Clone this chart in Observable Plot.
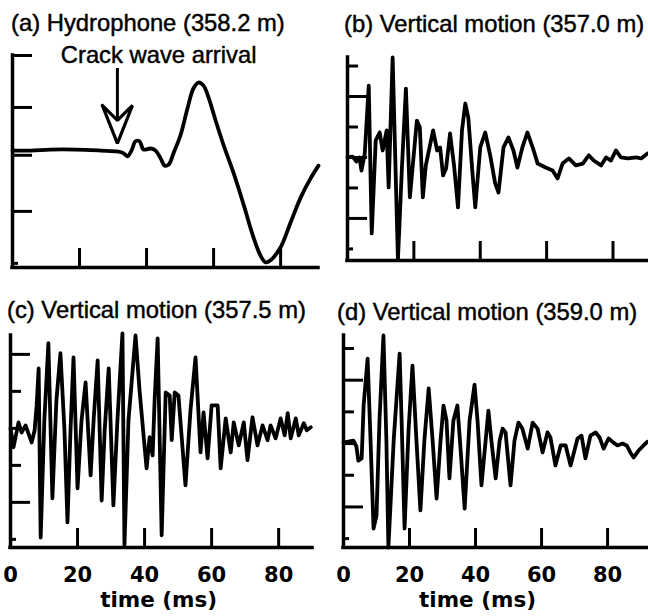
<!DOCTYPE html>
<html><head><meta charset="utf-8">
<script src="https://cdn.jsdelivr.net/npm/d3@7"></script>
<script src="https://cdn.jsdelivr.net/npm/@observablehq/plot@0.6"></script>
<style>
body{margin:0;background:#fff;}
#wrap{position:relative;width:648px;height:616px;overflow:hidden;background:#fff;font-family:"Liberation Sans",Arial,sans-serif;}
.title{position:absolute;font-size:23.8px;line-height:26px;white-space:nowrap;color:#000;-webkit-text-stroke:0.45px #000;}
</style></head><body><div id="wrap"></div>
<script>
const titles = ["(a) Hydrophone (358.2 m)", "(b) Vertical motion (357.0 m)", "(c) Vertical motion (357.5 m)", "(d) Vertical motion (359.0 m)"];
const timeTicks = [20, 40, 60, 80];
const timeLabels = [0, 20, 40, 60, 80];
const axisTitle = "time (ms)";

// (a) hydrophone pressure
const tA = [0,5.4,11.3,18.8,26.3,31.6,33.1,34.3,35.5,36.7,37.9,39.1,41.2,42.7,44.2,45.4,46.6,48.1,50.1,52.2,54,55.5,57,58.5,60.6,63,66,69,71.9,74,75.5,77,80,83,86,88.9,91.3];
const vA = [0.17,0.17,0.19,0.19,0.17,0.15,0.12,0.06,0.17,0.35,0.35,0.19,0.21,0.17,0.02,-0.12,-0.1,0.13,0.46,0.98,1.37,1.48,1.42,1.19,0.75,0.27,-0.27,-0.88,-1.5,-1.85,-1.98,-1.94,-1.69,-1.21,-0.73,-0.37,-0.12];
// (b) vertical motion 357.0 m
const tB = [0,1.5,2.7,3.6,4.2,5.2,6.4,7.3,8.5,9.7,10.6,11.8,12.4,13.6,15.2,16.4,17.6,18.8,20.9,21.8,22.7,23.6,25.8,27,27.9,28.8,29.7,30.9,32.1,33.3,34.5,35.5,36.4,37.6,38.5,40,41.5,43,44.5,45.5,47,48.5,50,51.2,52.7,54.2,55.8,57.3,59.7,61.8,63.3,64.8,66.7,68.8,70.9,72.7,74.2,76.4,77.9,79.4,80.9,82.4,84.5,87,88.5,90.4];
const vB = [0,0.03,-0.13,0,-0.43,0.13,2.36,-2.49,0.56,0.82,0.23,0.89,-0.98,3.28,-3.35,-0.33,2.26,-1.31,1.21,0.98,-1.31,-0.26,0.89,0.23,0.33,-0.59,-0.36,0.79,-0.26,-1.64,0.89,1.77,1.31,-0.43,-1.64,0.33,0.82,0.07,-0.85,-1.15,0.33,0.66,0.23,-0.33,0.33,0.82,0.33,-0.2,-0.33,-0.43,-0.69,-0.2,-0.03,-0.26,-0.2,0.07,-0.1,-0.26,0,-0.1,0.23,0,-0.03,0,-0.03,0.13];
// (c) vertical motion 357.5 m
const tC = [0,0.9,2.4,3.3,4.5,6.3,7.2,7.8,8.4,9,10.1,11.3,12.5,13.7,14.9,16.1,17,17.9,18.8,20,21.2,22.4,23.9,24.8,26,27.2,28.1,29.3,30.7,31.9,33.4,34,35.2,37.3,38.5,39.7,40.6,41.5,42.4,43,43.9,45.1,46.3,47.5,48.1,49,50.1,52.2,53.7,55.2,56.7,57.6,58.8,60,61.8,62.7,64.2,65.7,66.6,68.1,69.6,70.7,72.2,73.7,75.2,76.7,77.6,79.1,80.6,81.8,82.7,83.6,85.1,86,87.5,88.4,89.6];
const vC = [0,-0.51,0.16,-0.11,0.08,-0.38,-0.05,0.62,1.62,-2.95,0.22,2.3,-1.89,0.76,2.03,-0.05,-2.54,-0.05,1.92,-1.62,0.22,1.24,-1.27,0.22,1.84,-1.95,-0.05,1.62,-2.08,0.22,2.57,-3.16,0.22,2.51,1.03,-0.19,-1.08,-0.24,-0.73,0.76,2.43,-2.89,0.97,0.89,-0.32,0.97,0.89,-1.54,0.49,1.92,-0.65,0.43,-0.81,0.62,0.62,-1.08,0.27,-0.65,0.16,-0.46,0.16,-0.86,0.3,-0.46,0.08,-0.32,0.08,-0.27,0.27,-0.19,0.41,-0.27,0.27,-0.19,0.14,-0.05,0.03];
// (d) vertical motion 359.0 m
const tD = [0,1.5,3,3.9,4.5,5.5,6.1,7.3,8.2,9.1,10,10.9,12.1,13,13.6,15.2,17,17.6,18.5,19.7,20.9,22.1,23.3,24.5,25.8,27,28.2,29.4,30.3,31.2,32.1,33.3,34.5,35.5,36.7,38.2,39.7,40.6,41.8,43.9,44.8,46.1,47.3,48.2,49.1,50.6,51.8,53,54.2,55.8,57.3,58.8,60.3,61.8,62.7,64.2,65.8,67.3,68.8,70.9,72.1,73.3,74.8,76.4,77.6,78.8,80.3,81.8,83,84.5,85.8,86.9,87.9,89.4,90.9,92.1];
const vD = [0.03,0.06,0.09,-0.09,-0.54,-0.47,1.2,2.68,0.09,-2.68,-2.27,0.73,3.41,0.09,-3.28,0.09,2.84,0.73,-2.68,0.41,2.46,0.09,-2.11,0.09,1.74,0.09,-1.74,0.09,1.2,0.73,-1.1,0.73,1.2,-0.22,-2.05,0.73,1.86,0.73,-1.32,1.04,0.09,-1.1,0.09,0.47,0.35,-1.32,0.09,0.66,0.47,-0.16,0.66,0.47,-0.28,0.35,0.19,-0.69,-0.06,-0.06,-0.69,0.16,0.25,-0.47,0.25,0.35,0.19,-0.16,0.16,0.03,-0.06,0,-0.06,-0.28,-0.44,-0.22,-0.06,0.06];

// y-axis tick values (long / short / tiny)
const ticksA = {long: [2, 1, 0.08, -1], short: [], tiny: [-2]};
const ticksB = {long: [2, 0, -2], short: [3, 1, -1], tiny: [-3]};
const ticksC = {long: [2, -2], short: [1, 0, -1], tiny: [-3]};
const ticksD = {long: [2, -2], short: [3, 1, 0, -1], tiny: [-3]};

// crack wave arrival annotation (panel a)
const arrival = {t: 31.3, shaftTop: 1.75, tip: 0.31, headTop: 1.04, notch: 0.75, halfWidth: 4.5, label: "Crack wave arrival", labelT: 43.6, labelV: 2.0};
const axisTitleT = {c: 44.2, d: 40.6};

const zip = (t, v) => t.map((d, i) => ({t: d, v: v[i]}));
const wrap = document.getElementById("wrap");

function panel(cfg) {
  const fw = cfg.width - cfg.ml - cfg.mr, fh = cfg.height - cfg.mt - cfg.mb;
  const marks = [
    Plot.ruleX([0], {strokeWidth: 3.5, strokeLinecap: "square"}),
    Plot.ruleY([cfg.ydom[0]], {x1: 0, x2: cfg.xdom[1], strokeWidth: 3.5, strokeLinecap: "square"}),
    Plot.tickY(cfg.ticks.long, {y: d => d, insetRight: fw - 20, strokeWidth: 3}),
    Plot.tickY(cfg.ticks.short, {y: d => d, insetRight: fw - 11, strokeWidth: 3}),
    Plot.tickY(cfg.ticks.tiny, {y: d => d, insetRight: fw - 6, strokeWidth: 3}),
    Plot.tickX(timeTicks, {x: d => d, insetTop: fh - 19, strokeWidth: 3}),
    Plot.line(cfg.data, {x: "t", y: "v", curve: cfg.curve || "linear", strokeWidth: 3.8, strokeLinejoin: "round", strokeLinecap: "round"})
  ];
  if (cfg.labels) {
    marks.push(Plot.text(timeLabels, {x: d => d, text: d => String(d), frameAnchor: "bottom", dy: 28, lineAnchor: "middle", fontSize: 21, fontWeight: "bold", fontFamily: "DejaVu Sans"}));
    marks.push(Plot.text([axisTitle], {x: cfg.labelT, text: d => d, frameAnchor: "bottom", dy: 53, lineAnchor: "middle", fontSize: 21.5, fontWeight: "bold", fontFamily: "DejaVu Sans"}));
  }
  if (cfg.arrow) {
    const a = cfg.arrow;
    const head = [
      {t: a.t - a.halfWidth, v: a.headTop}, {t: a.t, v: a.tip},
      {t: a.t + a.halfWidth, v: a.headTop}, {t: a.t, v: a.notch},
      {t: a.t - a.halfWidth, v: a.headTop}
    ];
    marks.push(Plot.ruleX([a], {x: "t", y1: "shaftTop", y2: "notch", strokeWidth: 3}));
    marks.push(Plot.line(head, {x: "t", y: "v", fill: "white", stroke: "black", strokeWidth: 3.2, strokeLinejoin: "miter"}));
    marks.push(Plot.text([a], {x: "labelT", y: "labelV", text: "label", fontSize: 23.8, lineAnchor: "middle", fontFamily: "Liberation Sans", stroke: "black", strokeWidth: 0.45, fill: "black"}));
  }
  const svg = Plot.plot({
    width: cfg.width, height: cfg.height,
    marginLeft: cfg.ml, marginRight: cfg.mr, marginTop: cfg.mt, marginBottom: cfg.mb,
    x: {domain: cfg.xdom, axis: null},
    y: {domain: cfg.ydom, axis: null},
    style: {fontFamily: "Liberation Sans", background: "transparent", overflow: "visible", color: "black"},
    marks
  });
  svg.style.position = "absolute";
  svg.style.left = cfg.left + "px";
  svg.style.top = cfg.top + "px";
  wrap.appendChild(svg);
  const tt = document.createElement("div");
  tt.className = "title";
  tt.textContent = cfg.title;
  tt.style.left = cfg.titleX + "px";
  tt.style.top = cfg.titleY + "px";
  wrap.appendChild(tt);
}

panel({title: titles[0], titleX: 11, titleY: 10, data: zip(tA, vA), curve: "catmull-rom", ticks: ticksA, arrow: arrival,
  left: 0, top: 30, width: 324, height: 245, ml: 12, mr: 6, mt: 25, mb: 8, xdom: [0, 91.3], ydom: [-2.08, 2.0]});
panel({title: titles[1], titleX: 344, titleY: 11, data: zip(tB, vB), ticks: ticksB,
  left: 324, top: 30, width: 324, height: 245, ml: 23, mr: 1, mt: 27, mb: 15, xdom: [0, 90.4], ydom: [-3.38, 3.28]});
panel({title: titles[2], titleX: 7, titleY: 297, data: zip(tC, vC), ticks: ticksC, labels: true, labelT: axisTitleT.c,
  left: 0, top: 320, width: 324, height: 296, ml: 10, mr: 12, mt: 15, mb: 69, xdom: [0, 90.1], ydom: [-3.22, 2.51]});
panel({title: titles[3], titleX: 337, titleY: 299, data: zip(tD, vD), ticks: ticksD, labels: true, labelT: axisTitleT.d,
  left: 324, top: 320, width: 324, height: 296, ml: 19, mr: 0, mt: 15, mb: 69, xdom: [0, 92.4], ydom: [-3.28, 3.41]});
</script></body></html>
